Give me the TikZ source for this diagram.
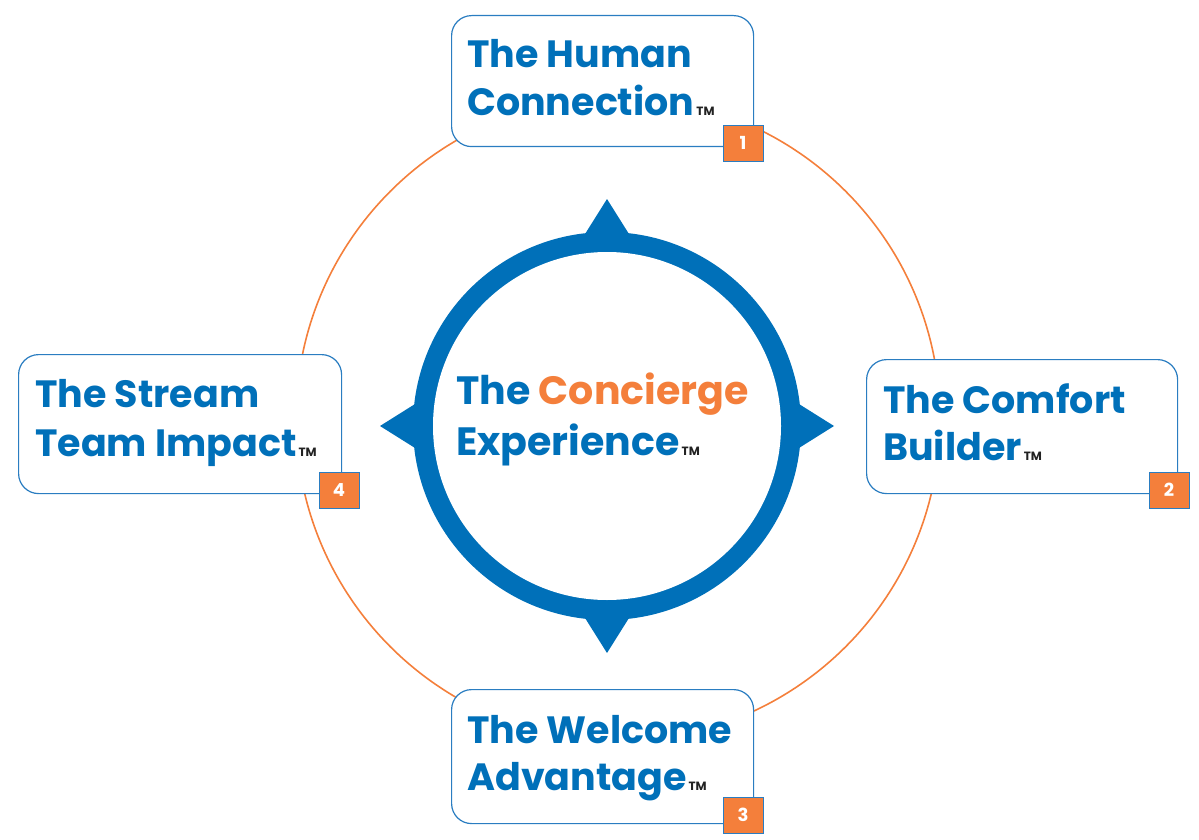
\documentclass[tikz,border=0pt]{standalone}
\usepackage{fontspec}
\setmainfont{Poppins}
\definecolor{cblue}{HTML}{0070B9}
\definecolor{bline}{HTML}{2A7DC1}
\definecolor{corange}{HTML}{F47F3B}
\definecolor{tmgray}{HTML}{222222}
\newcommand\tmark{\hspace{2pt}{\fontsize{12}{12}\selectfont\color{tmgray}TM}}
\tikzset{
  box/.style={draw=bline, line width=1.2pt, fill=white, rounded corners=20pt, inner sep=0pt, anchor=north west},
  lbl/.style={text=cblue, font=\fontsize{38}{38}\selectfont\bfseries, inner sep=0pt, anchor=base west},
  badge/.style={draw=bline, line width=0.8pt, fill=corange, text=white, font=\fontsize{18}{18}\selectfont\bfseries, minimum width=40pt, minimum height=36pt, inner sep=0pt},
  ring/.style={fill=cblue},
  orbit/.style={draw=corange, line width=1.6pt}
}
\begin{document}
\begin{tikzpicture}[x=1pt,y=-1pt]
\useasboundingbox (0,0) rectangle (1199,840);
% orange orbit
\coordinate (oc) at (618,419);
\draw[orbit] (oc) circle (322pt);
% compass
\coordinate (cc) at (607,426);
\fill[ring] (cc) circle (194pt);
\fill[ring] (607,199) -- (580,242) -- (634,242) -- cycle;
\fill[ring] (607,653) -- (580,610) -- (634,610) -- cycle;
\fill[ring] (380,426) -- (423,399) -- (423,453) -- cycle;
\fill[ring] (834,426) -- (791,399) -- (791,453) -- cycle;
\fill[white] (cc) circle (174pt);
\node[lbl, font=\fontsize{39.5}{39.5}\selectfont\bfseries] (c1) at (456,404) {The \textcolor{corange}{Concierge}};
\node[lbl, font=\fontsize{39.5}{39.5}\selectfont\bfseries] (c2) at (456,455) {Experience\tmark};
% box 1
\node[box, minimum width=302pt, minimum height=131pt] (b1) at (451,15) {};
\node[lbl] (t1a) at (467,68) {The Human};
\node[lbl] (t1b) at (467,116) {Connection\tmark};
\node[badge] (n1) at (743,143) {1};
% box 2
\node[box, minimum width=311pt, minimum height=134pt] (b2) at (866,359) {};
\node[lbl] (t2a) at (883,413) {The Comfort};
\node[lbl] (t2b) at (883,460) {Builder\tmark};
\node[badge] (n2) at (1169,490) {2};
% box 3
\node[box, minimum width=302pt, minimum height=134pt] (b3) at (451,689) {};
\node[lbl] (t3a) at (467,743) {The Welcome};
\node[lbl] (t3b) at (467,790) {Advantage\tmark};
\node[badge] (n3) at (743,815) {3};
% box 4
\node[box, minimum width=323pt, minimum height=139pt] (b4) at (18,354) {};
\node[lbl] (t4a) at (35,407) {The Stream};
\node[lbl] (t4b) at (35,456) {Team Impact\tmark};
\node[badge] (n4) at (339,490) {4};
\end{tikzpicture}
\end{document}
